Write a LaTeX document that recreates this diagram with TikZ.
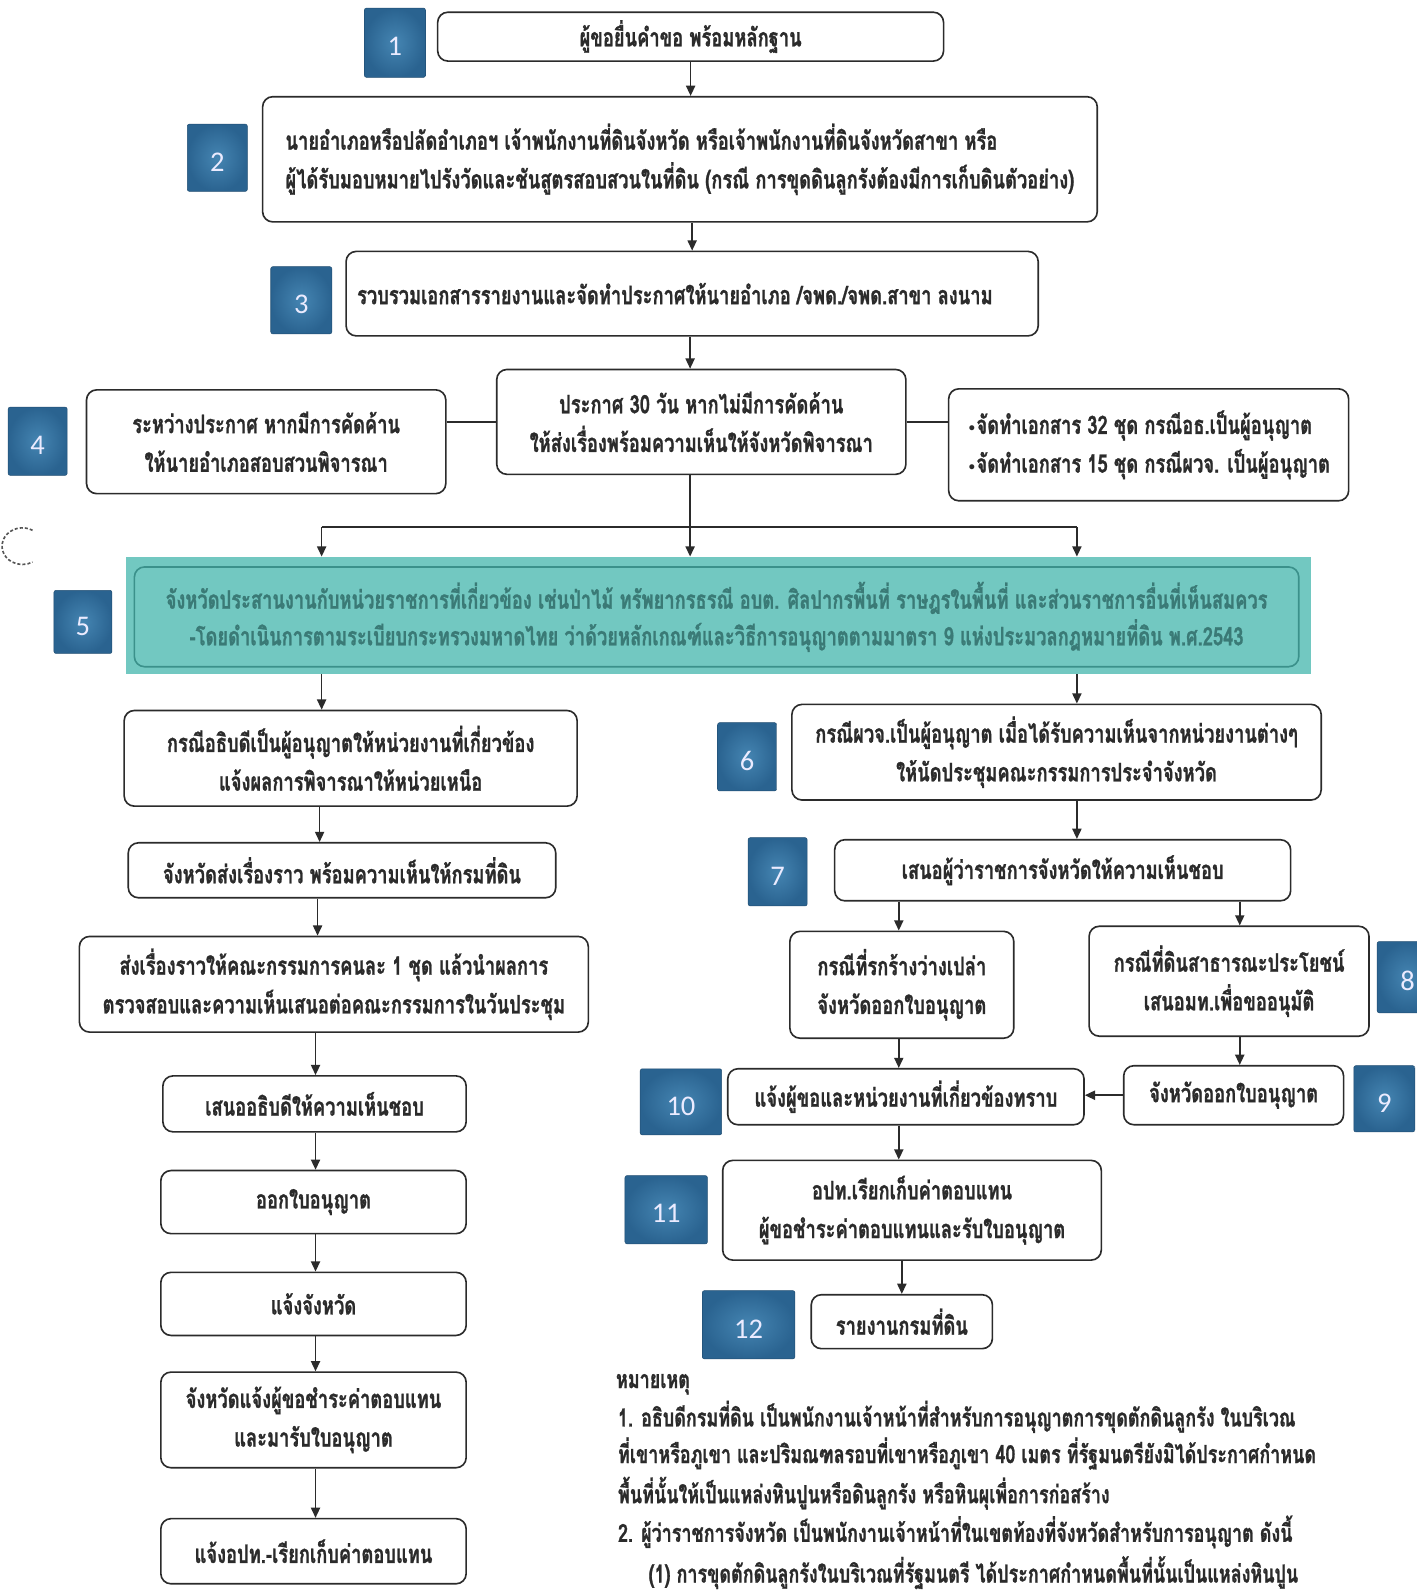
\documentclass[tikz,border=0pt]{standalone}
\usepackage{fontspec}
\newfontfamily\thaifont[Script=Thai,FakeStretch=0.72,FakeBold=1]{Loma}
\newfontfamily\numfont{Carlito}
\newfontfamily\symfont{DejaVu Sans}
\usetikzlibrary{arrows.meta,calc}
\definecolor{badgein}{HTML}{4585B2}
\definecolor{badgeout}{HTML}{2A6390}
\definecolor{tealfill}{HTML}{72C8C1}
\definecolor{tealline}{HTML}{3B918B}
\definecolor{tealtext}{HTML}{3A7A76}
\definecolor{ink}{HTML}{2B2B2B}
\newcommand\mkbadge[6]{%
  \node[badge, minimum width=#4pt, minimum height=#5pt] (#1) at (#2,#3) {};
  \node[num] (#1t) at ($(#1)+(0,4)$) {#6};}
\newcommand\bul{{\symfont\fontsize{14}{14}\selectfont •}}
\begin{document}
\begin{tikzpicture}[x=1pt,y=-1pt,
 box/.style={draw=ink, line width=1.6pt, rounded corners=10pt, fill=white, align=center, text=ink,
   font=\thaifont\bfseries\fontsize{25}{38}\selectfont, inner sep=0pt},
 badge/.style={rounded corners=2pt, inner color=badgein, outer color=badgeout, draw=badgeout!80!black, line width=0.5pt},
 num/.style={text=white!92!blue, font=\numfont\fontsize{28}{28}\selectfont, inner sep=0pt},
 arr/.style={draw=ink, line width=1.5pt, -{Triangle[length=10pt,width=9pt]}},
 ln/.style={draw=ink, line width=1.5pt},
 note/.style={anchor=west, inner sep=0pt, text=ink, font=\thaifont\bfseries\fontsize{24.5}{30}\selectfont}
]
\useasboundingbox (0,0) rectangle (1392,1568);
\fill[white] (0,0) rectangle (1392,1568);

% badges
\mkbadge{n1}{388}{42}{60}{68}{1}
\mkbadge{n2}{213.5}{155}{59}{66}{2}
\mkbadge{n3}{296}{295}{60}{66}{3}
\mkbadge{n4}{37}{433.5}{58}{67}{4}
\mkbadge{n5}{81.5}{611}{57}{62}{5}
\mkbadge{n6}{734}{743.5}{58}{67}{6}
\mkbadge{n7}{764}{856.5}{58}{67}{7}
\mkbadge{n8}{1383}{960}{60}{70}{8}
\mkbadge{n9}{1360}{1079.5}{60}{65}{9}
\mkbadge{n10}{669}{1082.5}{80}{65}{10}
\mkbadge{n11}{654.5}{1188.5}{81}{67}{11}
\mkbadge{n12}{735.5}{1301.5}{91}{67}{12}

% top chain
\node[box, minimum width=497pt, minimum height=48pt] (b1) at (678.5,36) {ผู้ขอยื่นคำขอ พร้อมหลักฐาน};
\node[box, align=left, minimum width=820pt, minimum height=123pt] (b2) at (668,156.5)
  {นายอำเภอหรือปลัดอำเภอฯ เจ้าพนักงานที่ดินจังหวัด หรือเจ้าพนักงานที่ดินจังหวัดสาขา หรือ\\ผู้ได้รับมอบหมายไปรังวัดและชันสูตรสอบสวนในที่ดิน (กรณี การขุดดินลูกรังต้องมีการเก็บดินตัวอย่าง)};
\node[box, align=left, minimum width=680pt, minimum height=83pt] (b3) at (680,288.5)
  {รวบรวมเอกสารรายงานและจัดทำประกาศให้นายอำเภอ /จพด./จพด.สาขา ลงนาม\hspace*{34pt}};
\node[box, minimum width=402pt, minimum height=103pt] (b4c) at (689,414.5)
  {ประกาศ 30 วัน หากไม่มีการคัดค้าน\\ให้ส่งเรื่องพร้อมความเห็นให้จังหวัดพิจารณา};
\node[box, minimum width=353pt, minimum height=102pt] (b4L) at (261.5,434)
  {ระหว่างประกาศ หากมีการคัดค้าน\\ให้นายอำเภอสอบสวนพิจารณา};
\node[box, align=left, minimum width=393pt, minimum height=110pt] (b4R) at (1128.5,437)
  {\bul จัดทำเอกสาร 32 ชุด กรณีอธ.เป็นผู้อนุญาต\\\bul จัดทำเอกสาร 15 ชุด กรณีผวจ. เป็นผู้อนุญาต};

% teal box 5
\node[fill=tealfill, minimum width=1164pt, minimum height=115pt, inner sep=0pt] (b5) at (706,604.5) {};
\node[box, fill=none, draw=tealline, text=tealtext, minimum width=1144pt, minimum height=98pt,
  font=\thaifont\bfseries\fontsize{25}{36}\selectfont] (b5t) at (704,606)
  {จังหวัดประสานงานกับหน่วยราชการที่เกี่ยวข้อง เช่นป่าไม้ ทรัพยากรธรณี อบต. ศิลปากรพื้นที่ ราษฎรในพื้นที่ และส่วนราชการอื่นที่เห็นสมควร\\-โดยดำเนินการตามระเบียบกระทรวงมหาดไทย ว่าด้วยหลักเกณฑ์และวิธีการอนุญาตตามมาตรา 9 แห่งประมวลกฎหมายที่ดิน พ.ศ.2543};

% left column
\node[box, minimum width=445pt, minimum height=94pt] (L1) at (344.5,745)
  {กรณีอธิบดีเป็นผู้อนุญาตให้หน่วยงานที่เกี่ยวข้อง\\แจ้งผลการพิจารณาให้หน่วยเหนือ};
\node[box, minimum width=420pt, minimum height=54pt] (L2) at (336,855) {จังหวัดส่งเรื่องราว พร้อมความเห็นให้กรมที่ดิน};
\node[box, minimum width=500pt, minimum height=94pt] (L3) at (328,967)
  {ส่งเรื่องราวให้คณะกรรมการคนละ 1 ชุด แล้วนำผลการ\\ตรวจสอบและความเห็นเสนอต่อคณะกรรมการในวันประชุม};
\node[box, minimum width=298pt, minimum height=55pt] (L4) at (309,1084.5) {เสนออธิบดีให้ความเห็นชอบ};
\node[box, minimum width=300pt, minimum height=62pt] (L5) at (308,1181) {ออกใบอนุญาต};
\node[box, minimum width=300pt, minimum height=62pt] (L6) at (308,1281) {แจ้งจังหวัด};
\node[box, minimum width=300pt, minimum height=94pt] (L7) at (308,1395) {จังหวัดแจ้งผู้ขอชำระค่าตอบแทน\\และมารับใบอนุญาต};
\node[box, minimum width=300pt, minimum height=64pt] (L8) at (308,1524) {แจ้งอปท.-เรียกเก็บค่าตอบแทน};

% right column
\node[box, minimum width=520pt, minimum height=94pt] (R6) at (1038,739)
  {กรณีผวจ.เป็นผู้อนุญาต เมื่อได้รับความเห็นจากหน่วยงานต่างๆ\\ให้นัดประชุมคณะกรรมการประจำจังหวัด};
\node[box, minimum width=448pt, minimum height=60pt] (R7) at (1044,855) {เสนอผู้ว่าราชการจังหวัดให้ความเห็นชอบ};
\node[box, minimum width=220pt, minimum height=105pt] (R8L) at (886,967.5) {กรณีที่รกร้างว่างเปล่า\\จังหวัดออกใบอนุญาต};
\node[box, minimum width=275pt, minimum height=108pt] (R8R) at (1207.5,964) {กรณีที่ดินสาธารณะประโยชน์\\เสนอมท.เพื่อขออนุมัติ};
\node[box, minimum width=216pt, minimum height=58pt] (R9) at (1212,1076) {จังหวัดออกใบอนุญาต};
\node[box, minimum width=350pt, minimum height=55pt] (R10) at (890,1077.5) {แจ้งผู้ขอและหน่วยงานที่เกี่ยวข้องทราบ};
\node[box, minimum width=372pt, minimum height=98pt] (R11) at (896,1189) {อปท.เรียกเก็บค่าตอบแทน\\ผู้ขอชำระค่าตอบแทนและรับใบอนุญาต};
\node[box, minimum width=178pt, minimum height=53pt] (R12) at (886,1298.5) {รายงานกรมที่ดิน};

% helper coordinates
\coordinate (cx) at (678,0);
\coordinate (jL) at (316,518);
\coordinate (jR) at (1058,518);
\coordinate (xb) at (314,0);
\coordinate (xc) at (312,0);
\coordinate (xd) at (310,0);
\coordinate (xr1) at (883,0);
\coordinate (xr2) at (1218,0);

% connectors
\draw[arr] (b1.south) -- (b1.south |- b2.north);
\draw[arr] (b3.north |- b2.south) -- (b3.north);
\draw[arr] (b3.south -| cx) -- (b4c.north -| cx);
\draw[ln] (b4L.east |- b4c.west) -- (b4c.west);
\draw[ln] (b4c.east) -- (b4c.east -| b4R.west);
\draw[arr] (b4c.south -| cx) -- (b5.north -| cx);
\draw[ln] (jL) -- (jR);
\draw[arr] (jL) -- (jL |- b5.north);
\draw[arr] (jR) -- (jR |- b5.north);
\draw[arr] (b5.south -| jL) -- (L1.north -| jL);
\draw[arr] (b5.south -| jR) -- (R6.north -| jR);
\draw[arr] (L1.south -| xb) -- (L2.north -| xb);
\draw[arr] (L2.south -| xc) -- (L3.north -| xc);
\draw[arr] (L3.south -| xd) -- (L4.north -| xd);
\draw[arr] (L4.south -| xd) -- (L5.north -| xd);
\draw[arr] (L5.south -| xd) -- (L6.north -| xd);
\draw[arr] (L6.south -| xd) -- (L7.north -| xd);
\draw[arr] (L7.south -| xd) -- (L8.north -| xd);
\draw[arr] (R6.south -| jR) -- (R7.north -| jR);
\draw[arr] (R7.south -| xr1) -- (R8L.north -| xr1);
\draw[arr] (R7.south -| xr2) -- (R8R.north -| xr2);
\draw[arr] (R8L.south -| xr1) -- (R10.north -| xr1);
\draw[arr] (R8R.south -| xr2) -- (R9.north -| xr2);
\draw[arr] (R9.west) -- (R9.west -| R10.east);
\draw[arr] (R10.south -| xr1) -- (R11.north -| xr1);
\draw[arr] (R11.south -| R12.north) -- (R12.north);

% notes
\node[note] (nt0) at (605,1360) {หมายเหตุ};
\node[note] (nt1) at (607,1392) {1. อธิบดีกรมที่ดิน เป็นพนักงานเจ้าหน้าที่สำหรับการอนุญาตการขุดตักดินลูกรัง ในบริเวณ};
\node[note] (nt2) at (607,1428) {ที่เขาหรือภูเขา และปริมณฑลรอบที่เขาหรือภูเขา 40 เมตร ที่รัฐมนตรียังมิได้ประกาศกำหนด};
\node[note] (nt3) at (607,1467) {พื้นที่นั้นให้เป็นแหล่งหินปูนหรือดินลูกรัง หรือหินผุเพื่อการก่อสร้าง};
\node[note] (nt4) at (607,1505) {2. ผู้ว่าราชการจังหวัด เป็นพนักงานเจ้าหน้าที่ในเขตท้องที่จังหวัดสำหรับการอนุญาต ดังนี้};
\node[note] (nt5) at (637,1545) {(1) การขุดตักดินลูกรังในบริเวณที่รัฐมนตรี ได้ประกาศกำหนดพื้นที่นั้นเป็นแหล่งหินปูน};

% stray arc at left margin
\draw[ink!80, line width=1.6pt, densely dashed] (32,521) arc[start angle=60, end angle=300, x radius=20pt, y radius=18pt];
\end{tikzpicture}
\end{document}
